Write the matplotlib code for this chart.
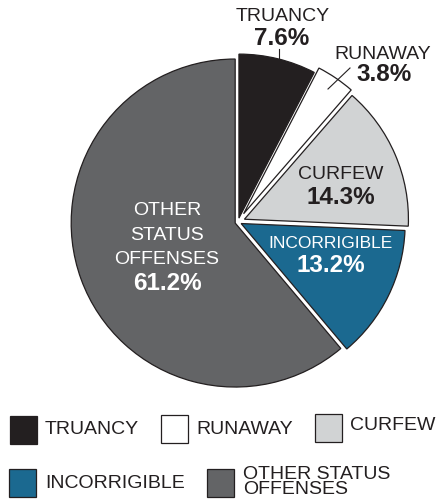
import matplotlib
matplotlib.use('Agg')
import matplotlib.pyplot as plt
from matplotlib.patches import Rectangle

plt.rcParams['font.family'] = ['Liberation Sans', 'DejaVu Sans']

# data
categories = ['TRUANCY', 'RUNAWAY', 'CURFEW', 'INCORRIGIBLE', 'OTHER STATUS OFFENSES']
shares = [7.6, 3.8, 14.3, 13.2, 61.2]
colors = ['#231f20', '#ffffff', '#d1d3d4', '#1b6990', '#636466']
explode = [4, 10, 7, 3.5, 3]   # pixels

W, H = 438, 501
fig = plt.figure(figsize=(W / 100, H / 100), dpi=100)
ax = fig.add_axes([0, 0, 1, 1])


def Y(y):
    # pixel rows counted from the top
    return H - y


edge = '#231f20'
ax.pie(shares, colors=colors, explode=explode, startangle=90, counterclock=False,
       center=(238, Y(222)), radius=164, frame=True,
       wedgeprops=dict(edgecolor=edge, linewidth=0.9))
ax.set_xlim(0, W)
ax.set_ylim(0, H)
ax.axis('off')

dark = '#231f20'
pct = [f'{v}%' for v in shares]

# labels outside
ax.text(283, Y(16), 'TRUANCY', ha='center', va='center', fontsize=14, color=dark)
ax.text(282, Y(38.5), pct[0], ha='center', va='center', fontsize=17.5, fontweight='bold', color=dark)
ax.plot([279, 279], [Y(49), Y(58)], color=dark, lw=0.8)
ax.text(383, Y(54.5), 'RUNAWAY', ha='center', va='center', fontsize=14, color=dark)
ax.text(384, Y(74), pct[1], ha='center', va='center', fontsize=17.5, fontweight='bold', color=dark)
ax.plot([350, 328], [Y(68), Y(89)], color=dark, lw=0.8)

# labels inside
ax.text(341, Y(174.5), 'CURFEW', ha='center', va='center', fontsize=14, color=dark)
ax.text(341, Y(197.5), pct[2], ha='center', va='center', fontsize=17.5, fontweight='bold', color=dark)
ax.text(330.5, Y(243), 'INCORRIGIBLE', ha='center', va='center', fontsize=12.5, color='white')
ax.text(331, Y(265.5), pct[3], ha='center', va='center', fontsize=17.5, fontweight='bold', color='white')
for txt, y in zip(['OTHER', 'STATUS', 'OFFENSES'], [210.5, 235.5, 260]):
    ax.text(167, Y(y), txt, ha='center', va='center', fontsize=14, color='white')
ax.text(167, Y(284), pct[4], ha='center', va='center', fontsize=17.5, fontweight='bold', color='white')

# legend
leg = [(10, 416, 45, 430, 'TRUANCY'),
       (161, 415, 196, 429, 'RUNAWAY'),
       (315, 414, 350, 426, 'CURFEW'),
       (9, 469, 45, 484, 'INCORRIGIBLE'),
       (207, 469, 243, 482, 'OTHER STATUS\nOFFENSES')]
for (sx, sy, tx, ty, lab), c in zip(leg, colors):
    ax.add_patch(Rectangle((sx, Y(sy + 28)), 27, 28, facecolor=c, edgecolor=edge, lw=0.9))
    ax.text(tx, Y(ty), lab, ha='left', va='center', fontsize=14, color=dark,
            linespacing=0.8)

fig.savefig('out.png', dpi=100)
